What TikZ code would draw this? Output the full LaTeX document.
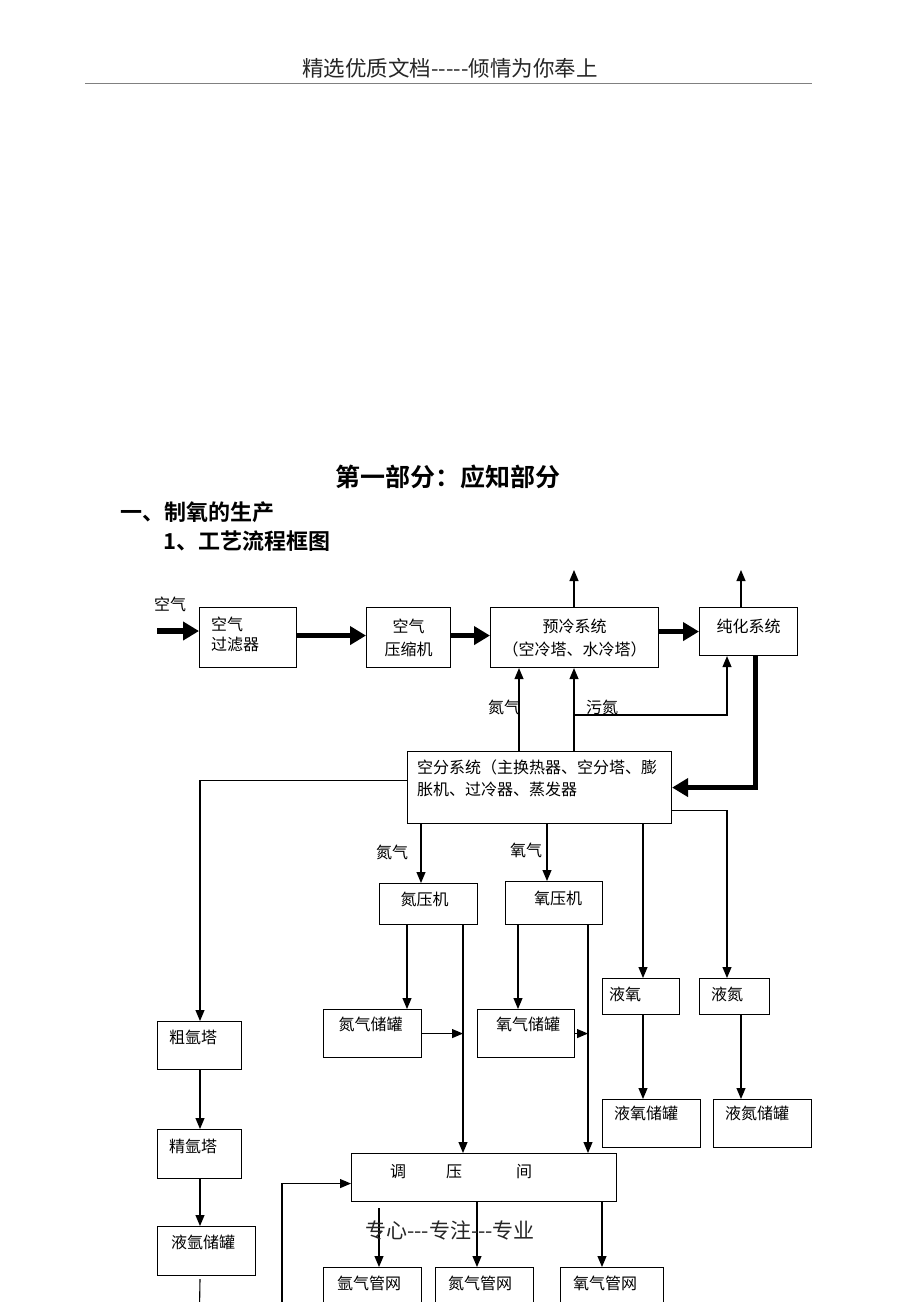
\documentclass[tikz,border=0pt]{standalone}
\usepackage{fontspec}
\setmainfont{Noto Sans CJK SC}[BoldFont={Noto Sans CJK SC Bold}]
\usetikzlibrary{positioning,arrows.meta}

\tikzset{
  blk/.style={draw, line width=1.1pt, inner sep=0pt, anchor=north west},
  lbl/.style={inner sep=0pt, font=\fontsize{16}{19}\selectfont},
  flow/.style={line width=1.1pt, -{Triangle[length=11pt,width=9pt]}},
  bigflow/.style={line width=5.5pt, -{Triangle[length=16pt,width=18pt]}},
}

\begin{document}
\begin{tikzpicture}[x=1pt,y=-1pt]
  \useasboundingbox (0,0) rectangle (920,1302);
  \fill[white] (0,0) rectangle (920,1302);
  \clip (0,0) rectangle (920,1302);

  % page head and titles
  \node[inner sep=0pt, font=\fontsize{21.5}{25}\selectfont, text=black!85] (hdr) at (450,68) {精选优质文档{-}{-}{-}{-}{-}倾情为你奉上};
  \coordinate (rl) at (85,83);
  \coordinate (rr) at (812,83);
  \draw[gray, line width=0.8pt] (rl) -- (rr);
  \node[inner sep=0pt, font=\fontsize{25}{30}\selectfont\bfseries] (ttl) at (448,477) {第一部分：应知部分};
  \node[inner sep=0pt, anchor=west, font=\fontsize{22}{26}\selectfont\bfseries] (sec1) at (120,512) {一、制氧的生产};
  \node[inner sep=0pt, anchor=west, font=\fontsize{22}{26}\selectfont\bfseries] (sec11) at (163,541) {1、工艺流程框图};

  % boxes
  \node[blk, minimum width=97pt, minimum height=60pt] (filt) at (199,607) {};
  \node[blk, minimum width=84pt, minimum height=60pt] (comp) at (366,607) {};
  \node[blk, minimum width=168pt, minimum height=60pt] (precool) at (490,607) {};
  \node[blk, minimum width=98pt, minimum height=48pt] (purif) at (699,607) {};
  \node[blk, minimum width=264pt, minimum height=72pt] (sep) at (407,751) {};
  \node[blk, minimum width=98pt, minimum height=41pt] (n2comp) at (379,883) {};
  \node[blk, minimum width=97pt, minimum height=43pt] (o2comp) at (505,881) {};
  \node[blk, minimum width=98pt, minimum height=48pt] (n2tank) at (323,1009) {};
  \node[blk, minimum width=97pt, minimum height=48pt] (o2tank) at (477,1009) {};
  \node[blk, minimum width=77pt, minimum height=36pt] (lox) at (602,978) {};
  \node[blk, minimum width=70pt, minimum height=36pt] (lin) at (699,978) {};
  \node[blk, minimum width=98pt, minimum height=48pt] (loxtank) at (602,1099) {};
  \node[blk, minimum width=98pt, minimum height=48pt] (lintank) at (713,1099) {};
  \node[blk, minimum width=265pt, minimum height=48pt] (regul) at (351,1153) {};
  \node[blk, minimum width=84pt, minimum height=48pt] (crar) at (157,1021) {};
  \node[blk, minimum width=84pt, minimum height=49pt] (purar) at (157,1129) {};
  \node[blk, minimum width=98pt, minimum height=49pt] (lar) at (157,1226) {};
  \node[blk, minimum width=98pt, minimum height=60pt] (arnet) at (323,1267) {};
  \node[blk, minimum width=98pt, minimum height=60pt] (n2net) at (435,1267) {};
  \node[blk, minimum width=103pt, minimum height=60pt] (o2net) at (560,1267) {};

  % box texts
  \node[lbl, align=left, below right=10pt and 12pt of filt.north west] (filtT) {空气\\[1pt]过滤器};
  \node[lbl, align=center, font=\fontsize{16}{23}\selectfont, below=12pt of comp.north] (compT) {空气\\压缩机};
  \node[lbl, align=center, font=\fontsize{16}{23}\selectfont, below=12pt of precool.north] (precoolT) {预冷系统\\（空冷塔、水冷塔）};
  \node[lbl, below=12pt of purif.north] (purifT) {纯化系统};
  \node[lbl, align=left, font=\fontsize{16}{22}\selectfont, below right=9pt and 10pt of sep.north west] (sepT) {空分系统（主换热器、空分塔、膨\\胀机、过冷器、蒸发器};
  \node[lbl, below=9pt of n2comp.north, xshift=-4pt] (n2compT) {氮压机};
  \node[lbl, below=10pt of o2comp.north, xshift=4pt] (o2compT) {氧压机};
  \node[lbl, below=8pt of n2tank.north, xshift=-2pt] (n2tankT) {氮气储罐};
  \node[lbl, below=8pt of o2tank.north, xshift=2pt] (o2tankT) {氧气储罐};
  \node[lbl, below right=9pt and 7pt of lox.north west] (loxT) {液氧};
  \node[lbl, below right=9pt and 12pt of lin.north west] (linT) {液氮};
  \node[lbl, below right=7pt and 12pt of loxtank.north west] (loxtankT) {液氧储罐};
  \node[lbl, below right=7pt and 12pt of lintank.north west] (lintankT) {液氮储罐};
  \node[lbl, below right=11pt and 39pt of regul.north west] (regulT) {调\hspace{40pt}压\hspace{54pt}间};
  \node[lbl, below right=9pt and 12pt of crar.north west] (crarT) {粗氩塔};
  \node[lbl, below right=10pt and 12pt of purar.north west] (purarT) {精氩塔};
  \node[lbl, below right=9pt and 14pt of lar.north west] (larT) {液氩储罐};
  \node[lbl, below right=9pt and 14pt of arnet.north west] (arnetT) {氩气管网};
  \node[lbl, below right=9pt and 13pt of n2net.north west] (n2netT) {氮气管网};
  \node[lbl, below right=9pt and 13pt of o2net.north west] (o2netT) {氧气管网};

  % stream labels
  \node[lbl] (airL) at (170,604) {空气};
  \node[lbl] (n2upL) at (504,707) {氮气};
  \node[lbl] (wnL) at (602,707) {污氮};
  \node[lbl] (n2L) at (392,852) {氮气};
  \node[lbl] (o2L) at (526,850) {氧气};

  % main air line
  \coordinate (airin) at (157,631);
  \draw[bigflow] (airin) -- (airin -| filt.west);
  \draw[bigflow] ([yshift=2pt]filt.east) -- ([yshift=2pt]comp.west);
  \draw[bigflow] ([yshift=2pt]comp.east) -- ([yshift=2pt]precool.west);
  \draw[bigflow] (precool.east |- purif.west) -- (purif.west);
  \draw[bigflow] ([xshift=7pt]purif.south) |- (sep.east);

  % vents
  \coordinate (vent1) at (574,570);
  \coordinate (vent2) at (741,570);
  \draw[flow] (vent1 |- precool.north) -- (vent1);
  \draw[flow] (vent2 |- purif.north) -- (vent2);

  % back streams from the cold box
  \coordinate (n2x) at (519,0);
  \coordinate (wnx) at (574,0);
  \coordinate (wn) at (574,715);
  \coordinate (wnd) at (727,0);
  \draw[flow] (n2x |- sep.north) -- (n2x |- precool.south);
  \draw[flow] (wnx |- sep.north) -- (wnx |- precool.south);
  \draw[flow] (wn) -| (wnd |- purif.south);

  % products of the cold box
  \coordinate (arr) at (200,0);
  \coordinate (n2c) at (421,0);
  \coordinate (o2c) at (547,0);
  \coordinate (loxc) at (643,0);
  \coordinate (linc) at (727,0);
  \draw[flow] ([yshift=7pt]sep.west) -| (arr |- crar.north);
  \draw[flow] ([yshift=-23pt]sep.east) -| (linc |- lin.north);
  \draw[flow] (loxc |- sep.south) -- (loxc |- lox.north);
  \draw[flow] (n2c |- sep.south) -- (n2c |- n2comp.north);
  \draw[flow] (o2c |- sep.south) -- (o2c |- o2comp.north);

  % compressors, tanks and the regulating room
  \coordinate (n2t) at (407,0);
  \coordinate (n2r) at (463,0);
  \coordinate (o2t) at (518,0);
  \coordinate (o2r) at (588,0);
  \draw[flow] (n2t |- n2comp.south) -- (n2t |- n2tank.north);
  \draw[flow] (n2r |- n2comp.south) -- (n2r |- regul.north);
  \draw[flow] (o2t |- o2comp.south) -- (o2t |- o2tank.north);
  \draw[flow] (o2r |- o2comp.south) -- (o2r |- regul.north);
  \draw[flow] (n2tank.east) -- (n2tank.east -| n2r);
  \draw[flow] (o2tank.east) -- (o2tank.east -| o2r);

  % liquids
  \coordinate (lint) at (741,0);
  \draw[flow] (loxc |- lox.south) -- (loxc |- loxtank.north);
  \draw[flow] (lint |- lin.south) -- (lint |- lintank.north);

  % argon column train
  \coordinate (lard) at (199,1340);
  \draw[flow] (arr |- crar.south) -- (arr |- purar.north);
  \draw[flow] (arr |- purar.south) -- (arr |- lar.north);
  \draw[line width=1.1pt] ([yshift=-3pt]lar.south -| arr) -- (lard);

  % return to the regulating room
  \coordinate (retn) at (282,1340);
  \draw[flow] (retn) |- ([yshift=-6pt]regul.west);

  % pipe networks
  \coordinate (arx) at (379,0);
  \coordinate (n2x2) at (477,0);
  \coordinate (o2x2) at (602,0);
  \draw[flow] ([yshift=-6pt]arx |- regul.south) -- (arx |- arnet.north);
  \draw[flow] (n2x2 |- regul.south) -- (n2x2 |- n2net.north);
  \draw[flow] (o2x2 |- regul.south) -- (o2x2 |- o2net.north);

  % page foot
  \node[inner sep=0pt, font=\fontsize{21}{24}\selectfont, text=black!85] (ftr) at (450,1230) {专心{-}{-}{-}专注{-}{-}{-}专业};
\end{tikzpicture}
\end{document}
